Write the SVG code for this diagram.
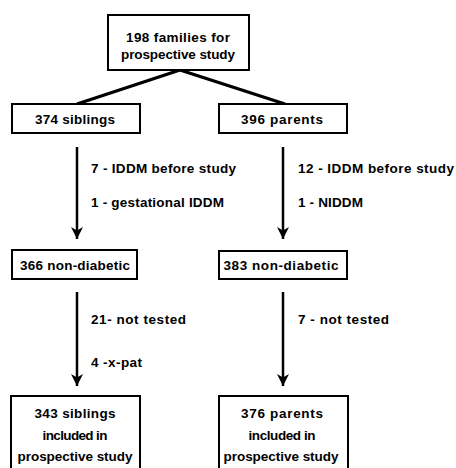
<svg xmlns="http://www.w3.org/2000/svg" width="456" height="468" viewBox="0 0 456 468">
<defs>
<style>
.box{fill:#fff;stroke:#000;stroke-width:2}
.t{font-family:"Liberation Sans",Arial,sans-serif;font-weight:bold;font-size:13.5px;fill:#000}
.c{text-anchor:middle}
.ln{stroke:#000;stroke-width:3.2;fill:none}
.ar{stroke:#000;stroke-width:2.5;fill:none}
</style>
<marker id="ah" viewBox="0 0 10 10" refX="10" refY="5" markerUnits="userSpaceOnUse" markerWidth="12" markerHeight="12" orient="auto">
<path d="M0,0 L10,5 L0,10 L3,5 Z" fill="#000"/>
</marker>
</defs>
<rect width="456" height="468" fill="#fff"/>
<g id="connectors">
<line class="ln" x1="180" y1="70" x2="77" y2="104"/>
<line class="ln" x1="180" y1="70" x2="285" y2="104"/>
<line class="ar" x1="77" y1="147" x2="77" y2="239" marker-end="url(#ah)"/>
<line class="ar" x1="283" y1="147" x2="283" y2="239" marker-end="url(#ah)"/>
<line class="ar" x1="77" y1="292" x2="77" y2="386" marker-end="url(#ah)"/>
<line class="ar" x1="283" y1="292" x2="283" y2="386" marker-end="url(#ah)"/>
</g>
<g id="n-families">
<rect class="box" x="108" y="15" width="141" height="55"/>
<text class="t c" x="178" y="42" textLength="104" lengthAdjust="spacing">198 families for</text>
<text class="t c" x="178" y="59" textLength="114" lengthAdjust="spacing">prospective study</text>
</g>
<g id="n-siblings">
<rect class="box" x="12" y="104" width="128" height="29"/>
<text class="t c" x="75" y="124" textLength="80" lengthAdjust="spacing">374 siblings</text>
</g>
<g id="n-parents">
<rect class="box" x="219" y="104" width="128" height="29"/>
<text class="t c" x="282" y="124" textLength="82" lengthAdjust="spacing">396 parents</text>
</g>
<g id="l-sib1">
<text class="t" x="91" y="173" textLength="145" lengthAdjust="spacing">7 - IDDM before study</text>
<text class="t" x="91" y="207" textLength="133" lengthAdjust="spacing">1 - gestational IDDM</text>
</g>
<g id="l-par1">
<text class="t" x="298" y="173" textLength="156" lengthAdjust="spacing">12 - IDDM before study</text>
<text class="t" x="298" y="207" textLength="65" lengthAdjust="spacing">1 - NIDDM</text>
</g>
<g id="n-sib-nd">
<rect class="box" x="12" y="250" width="125" height="29"/>
<text class="t c" x="75" y="270" textLength="110" lengthAdjust="spacing">366 non-diabetic</text>
</g>
<g id="n-par-nd">
<rect class="box" x="219" y="251" width="128" height="28"/>
<text class="t c" x="281" y="270" textLength="115" lengthAdjust="spacing">383 non-diabetic</text>
</g>
<g id="l-sib2">
<text class="t" x="91" y="324" textLength="95" lengthAdjust="spacing">21- not tested</text>
<text class="t" x="91" y="367" textLength="51" lengthAdjust="spacing">4 -x-pat</text>
</g>
<g id="l-par2">
<text class="t" x="298" y="324" textLength="91" lengthAdjust="spacing">7 - not tested</text>
</g>
<g id="n-sib-final">
<rect class="box" x="11" y="396" width="129" height="80"/>
<text class="t c" x="75" y="418" textLength="81" lengthAdjust="spacing">343 siblings</text>
<text class="t c" x="75" y="440" textLength="65" lengthAdjust="spacing">included in</text>
<text class="t c" x="75" y="461" textLength="115" lengthAdjust="spacing">prospective study</text>
</g>
<g id="n-par-final">
<rect class="box" x="219" y="396" width="129" height="80"/>
<text class="t c" x="282" y="418" textLength="82" lengthAdjust="spacing">376 parents</text>
<text class="t c" x="282" y="440" textLength="67" lengthAdjust="spacing">included in</text>
<text class="t c" x="281" y="461" textLength="115" lengthAdjust="spacing">prospective study</text>
</g>
</svg>
